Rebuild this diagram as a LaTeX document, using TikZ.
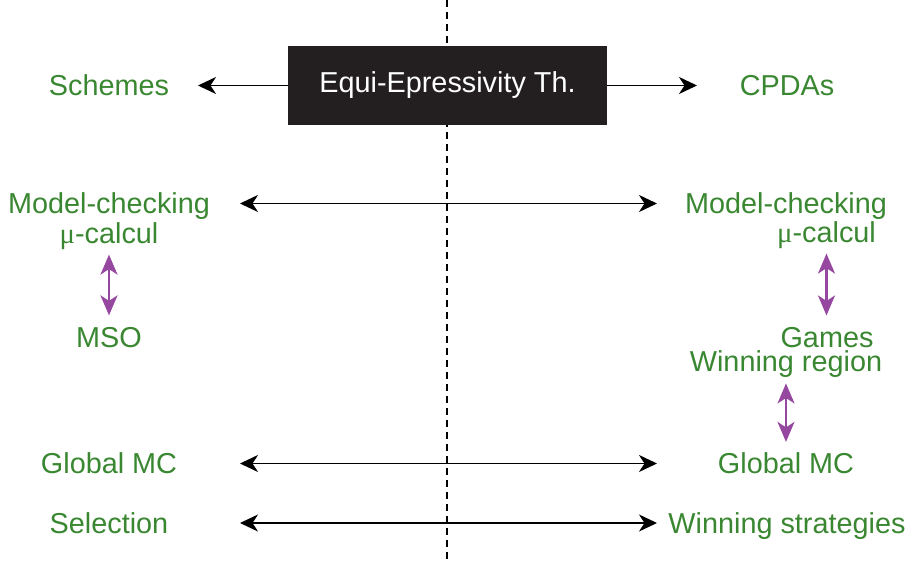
\documentclass[tikz,border=0pt]{standalone}
\usepackage{fontspec}
\setmainfont{Liberation Sans}
\newfontfamily\mufont{Liberation Serif}
\usetikzlibrary{arrows.meta,positioning}
\definecolor{mcgreen}{RGB}{58,135,50}
\definecolor{mcpurple}{RGB}{150,72,160}
\definecolor{boxblack}{RGB}{35,31,32}
\begin{document}
\begin{tikzpicture}[font=\fontsize{16.4}{19}\selectfont,
  t/.style={text=mcgreen,inner sep=0pt,text height=15pt,text depth=3.5pt},
  ar/.style={{Stealth[length=3.6mm,width=3.4mm,inset=1.1mm]}-{Stealth[length=3.6mm,width=3.4mm,inset=1.1mm]},line width=1.1pt},
  par/.style={{Stealth[length=4mm,width=3.4mm,inset=1.1mm]}-{Stealth[length=4mm,width=3.4mm,inset=1.1mm]},line width=1.2pt,draw=mcpurple,shorten <=1mm,shorten >=1mm}]
\useasboundingbox (0,0) rectangle (18.2,-11.26);
\draw[line width=1.1pt,dash pattern=on 1.4mm off 1mm] (8.94,0) -- (8.94,-11.26);
\node[fill=boxblack,text=white,minimum width=6.38cm,minimum height=1.58cm] (eq) at (8.95,-1.71) {Equi-Epressivity Th.};
% left column
\node[t] (sch) at (2.18,-1.71) {Schemes};
\node[t] (mcl) at (2.18,-4.07) {Model-checking};
\node[t] (mul) at (2.18,-4.66) {{\mufont μ}-calcul};
\node[t] (mso) at (2.18,-6.74) {MSO};
\node[t] (gml) at (2.18,-9.27) {Global MC};
\node[t] (sel) at (2.18,-10.46) {Selection};
% right column
\node[t] (cpda) at (15.74,-1.71) {CPDAs};
\node[t] (mcr) at (15.72,-4.07) {Model-checking};
\node[t] (mur) at (16.53,-4.64) {{\mufont μ}-calcul};
\node[t,text depth=0pt] (gam) at (16.54,-6.68) {Games};
\node[t,text height=12pt] (win) at (15.72,-7.29) {Winning region};
\node[t] (gmr) at (15.72,-9.27) {Global MC};
\node[t] (wst) at (15.74,-10.46) {Winning strategies};
% arrows
\coordinate (tl) at (3.96,0); \coordinate (tr) at (13.94,0);
\coordinate (lx) at (4.8,0); \coordinate (rx) at (13.14,0);
\draw[-{Stealth[length=3.6mm,width=3.4mm,inset=1.1mm]},line width=1.1pt] (eq.west) -- (eq.west -| tl);
\draw[-{Stealth[length=3.6mm,width=3.4mm,inset=1.1mm]},line width=1.1pt] (eq.east) -- (eq.east -| tr);
\foreach \a/\b in {mcl/mcr,gml/gmr,sel/wst}{%
  \draw[ar] (\a -| lx) -- (\b -| rx);}
\draw[par] (mul.south) -- (mso.north);
\draw[par] (mur.south) -- (mur.south |- gam.north);
\draw[par] (win.south) -- (gmr.north);
\end{tikzpicture}
\end{document}
